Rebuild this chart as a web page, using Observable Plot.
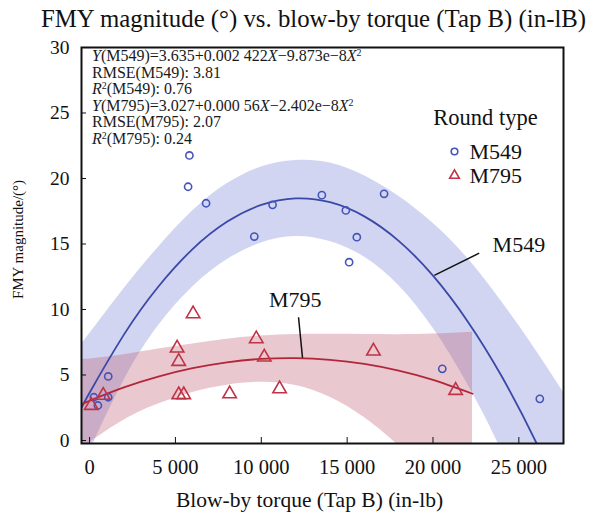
<!DOCTYPE html>
<html><head><meta charset="utf-8">
<script src="https://cdn.jsdelivr.net/npm/d3@7"></script>
<script src="https://cdn.jsdelivr.net/npm/@observablehq/plot@0.6"></script>
<style>
body{margin:0;background:#fff;}
#wrap{position:relative;width:591px;height:515px;font-family:"Liberation Serif","Times New Roman",serif;}
#stats{position:absolute;left:92px;top:48px;font-size:16px;line-height:16.5px;color:#1a1a1a;white-space:nowrap;}
#stats sup{font-size:0.62em;line-height:0;vertical-align:0.5em;}
</style></head><body>
<div id="wrap"><div id="chart"></div>
<div id="stats">
<div><i>Y</i>(M549)=3.635+0.002 422<i>X</i>−9.873e−8<i>X</i><sup>2</sup></div>
<div>RMSE(M549): 3.81</div>
<div><i>R</i><sup>2</sup>(M549): 0.76</div>
<div><i>Y</i>(M795)=3.027+0.000 56<i>X</i>−2.402e−8<i>X</i><sup>2</sup></div>
<div>RMSE(M795): 2.07</div>
<div><i>R</i><sup>2</sup>(M795): 0.24</div>
</div></div>
<script>
// ---- data ----
const m549X = [250, 484, 1087, 1087, 5738, 5814, 6785, 9593, 10657, 13529, 14925, 15116, 15564, 17151, 20541, 26221];
const m549Y = [3.30, 2.67, 3.30, 4.89, 19.37, 21.76, 18.11, 15.57, 17.99, 18.73, 17.56, 13.61, 15.52, 18.83, 5.47, 3.18];
const m795X = [99, 797, 5099, 5192, 5192, 5483, 6029, 8157, 9709, 10174, 11066, 16531, 21318];
const m795Y = [2.67, 3.44, 7.05, 6.03, 3.49, 3.49, 9.67, 3.56, 7.76, 6.36, 3.94, 6.82, 3.82];

// fitted curves (values of the printed quadratic fits) and their bands
const fit549X = [-470, 0, 2000, 4000, 6000, 8000, 10000, 12000, 14000, 16000, 18000, 20000, 22000, 24000, 26000, 27600];
const fit549Y = [2.48, 3.64, 8.08, 11.74, 14.61, 16.69, 17.98, 18.48, 18.19, 17.11, 15.24, 12.58, 9.13, 4.90, -0.13, -4.73];
const band549Lo = [-2.42, -0.86, 4.58, 8.74, 11.71, 13.79, 15.08, 15.58, 15.19, 14.01, 11.84, 8.58, 4.33, -0.80, -7.13, -13.13];
const band549Hi = [7.38, 8.14, 11.58, 14.74, 17.51, 19.59, 20.88, 21.38, 21.19, 20.21, 18.64, 16.58, 13.93, 10.60, 6.87, 3.67];

const fit795X = [-470, 0, 2000, 4000, 6000, 8000, 10000, 12000, 14000, 16000, 18000, 20000, 22300];
const fit795Y = [2.76, 3.03, 4.05, 4.88, 5.52, 5.97, 6.23, 6.29, 6.16, 5.84, 5.33, 4.62, 3.57];
const band795Lo = [-0.74, -0.17, 1.55, 2.78, 3.67, 4.22, 4.45, 4.2, 3.3, 1.75, -0.4, -3.0, -6.3];
const band795Hi = [6.26, 6.23, 6.55, 6.98, 7.37, 7.72, 7.98, 8.09, 8.11, 8.09, 8.08, 8.12, 8.27];

const xTicks = [0, 5000, 10000, 15000, 20000, 25000];
const yTicks = [0, 5, 10, 15, 20, 25, 30];
const seriesNames = ["M549", "M795"];

// ---- build tables ----
const pts549 = m549X.map((x, i) => ({x, y: m549Y[i]}));
const pts795 = m795X.map((x, i) => ({x, y: m795Y[i]}));
const f549 = fit549X.map((x, i) => ({x, y: fit549Y[i], lo: band549Lo[i], hi: band549Hi[i]}));
const f795 = fit795X.map((x, i) => ({x, y: fit795Y[i], lo: band795Lo[i], hi: band795Hi[i]}));

const BLUE = "#3a48a8", BLUE_PT = "#4554b8", BLUE_BAND = "#7b88d6";
const RED = "#b3263a", RED_PT = "#bf3346", RED_BAND = "#c06276";
const fmt = d => d3.format(",")(d).replace(/,/g, " ");

const plot = Plot.plot({
  width: 591, height: 515,
  marginTop: 47, marginBottom: 72, marginLeft: 81, marginRight: 28,
  x: {domain: [-470, 27600]},
  y: {domain: [-0.23, 30]},
  style: {fontFamily: "'Liberation Serif','Times New Roman',serif", color: "#111", background: "#fff"},
  marks: [
    Plot.areaY(f549, {x: "x", y1: "lo", y2: "hi", fill: BLUE_BAND, fillOpacity: 0.35, curve: "natural", clip: true}),
    Plot.areaY(f795, {x: "x", y1: "lo", y2: "hi", fill: RED_BAND, fillOpacity: 0.35, curve: "natural", clip: true}),
    Plot.line(f549, {x: "x", y: "y", stroke: BLUE, strokeWidth: 1.8, curve: "natural", clip: true}),
    Plot.line(f795, {x: "x", y: "y", stroke: RED, strokeWidth: 1.8, curve: "natural", clip: true}),
    Plot.dot(pts549, {x: "x", y: "y", r: 3.6, stroke: BLUE_PT, strokeWidth: 1.6, symbol: "circle"}),
    Plot.dot(pts795, {x: "x", y: "y", r: 5, stroke: RED_PT, strokeWidth: 1.6, symbol: "triangle"}),
    // series labels with leader lines
    Plot.link([{x1: 22692, y1: 14.3, x2: 20076, y2: 12.6}], {x1: "x1", y1: "y1", x2: "x2", y2: "y2", stroke: "#111", strokeWidth: 1.5}),
    Plot.text([{x: 25000, y: 14.9, t: seriesNames[0]}], {x: "x", y: "y", text: "t", fontSize: 22, fill: "#111"}),
    Plot.link([{x1: 12169, y1: 9.41, x2: 12401, y2: 6.31}], {x1: "x1", y1: "y1", x2: "x2", y2: "y2", stroke: "#111", strokeWidth: 1.5}),
    Plot.text([{x: 11977, y: 10.7, t: seriesNames[1]}], {x: "x", y: "y", text: "t", fontSize: 22, fill: "#111"}),
    // legend
    Plot.text(["Round type"], {frameAnchor: "top-right", dx: -78, dy: 70, fontSize: 22.5, fill: "#111", textAnchor: "middle", lineAnchor: "middle"}),
    Plot.dot([seriesNames[0]], {frameAnchor: "top-right", dx: -109, dy: 104, r: 3.3, stroke: BLUE_PT, strokeWidth: 1.6, symbol: "circle"}),
    Plot.dot([seriesNames[1]], {frameAnchor: "top-right", dx: -109, dy: 128, r: 3.6, stroke: RED_PT, strokeWidth: 1.6, symbol: "triangle"}),
    Plot.text([seriesNames[0]], {frameAnchor: "top-right", dx: -94, dy: 104, fontSize: 22, fill: "#111", textAnchor: "start", lineAnchor: "middle"}),
    Plot.text([seriesNames[1]], {frameAnchor: "top-right", dx: -94, dy: 128, fontSize: 22, fill: "#111", textAnchor: "start", lineAnchor: "middle"}),
    // axes
    Plot.axisX({ticks: xTicks, tickFormat: fmt, tickSize: -6, tickPadding: 22, fontSize: 20.5, label: null, stroke: "#111"}),
    Plot.axisY({ticks: yTicks, tickSize: -5, tickPadding: 17, fontSize: 19.5, label: null, stroke: "#111"}),
    Plot.frame({stroke: "#111", strokeWidth: 2}),
    // titles
    Plot.text(["FMY magnitude (°) vs. blow-by torque (Tap B) (in-lB)"], {frameAnchor: "top", dx: -9, dy: -28, fontSize: 24.8, fill: "#111", lineAnchor: "middle"}),
    Plot.text(["Blow-by torque (Tap B) (in-lb)"], {frameAnchor: "bottom", dx: -13, dy: 57, fontSize: 21.5, fill: "#111", lineAnchor: "middle"}),
    Plot.text(["FMY magnitude/(°)"], {frameAnchor: "left", dx: -63, dy: -6, rotate: -90, fontSize: 15, fill: "#111", textAnchor: "middle", lineAnchor: "middle"})
  ]
});
document.getElementById("chart").appendChild(plot);
</script>
</body></html>
